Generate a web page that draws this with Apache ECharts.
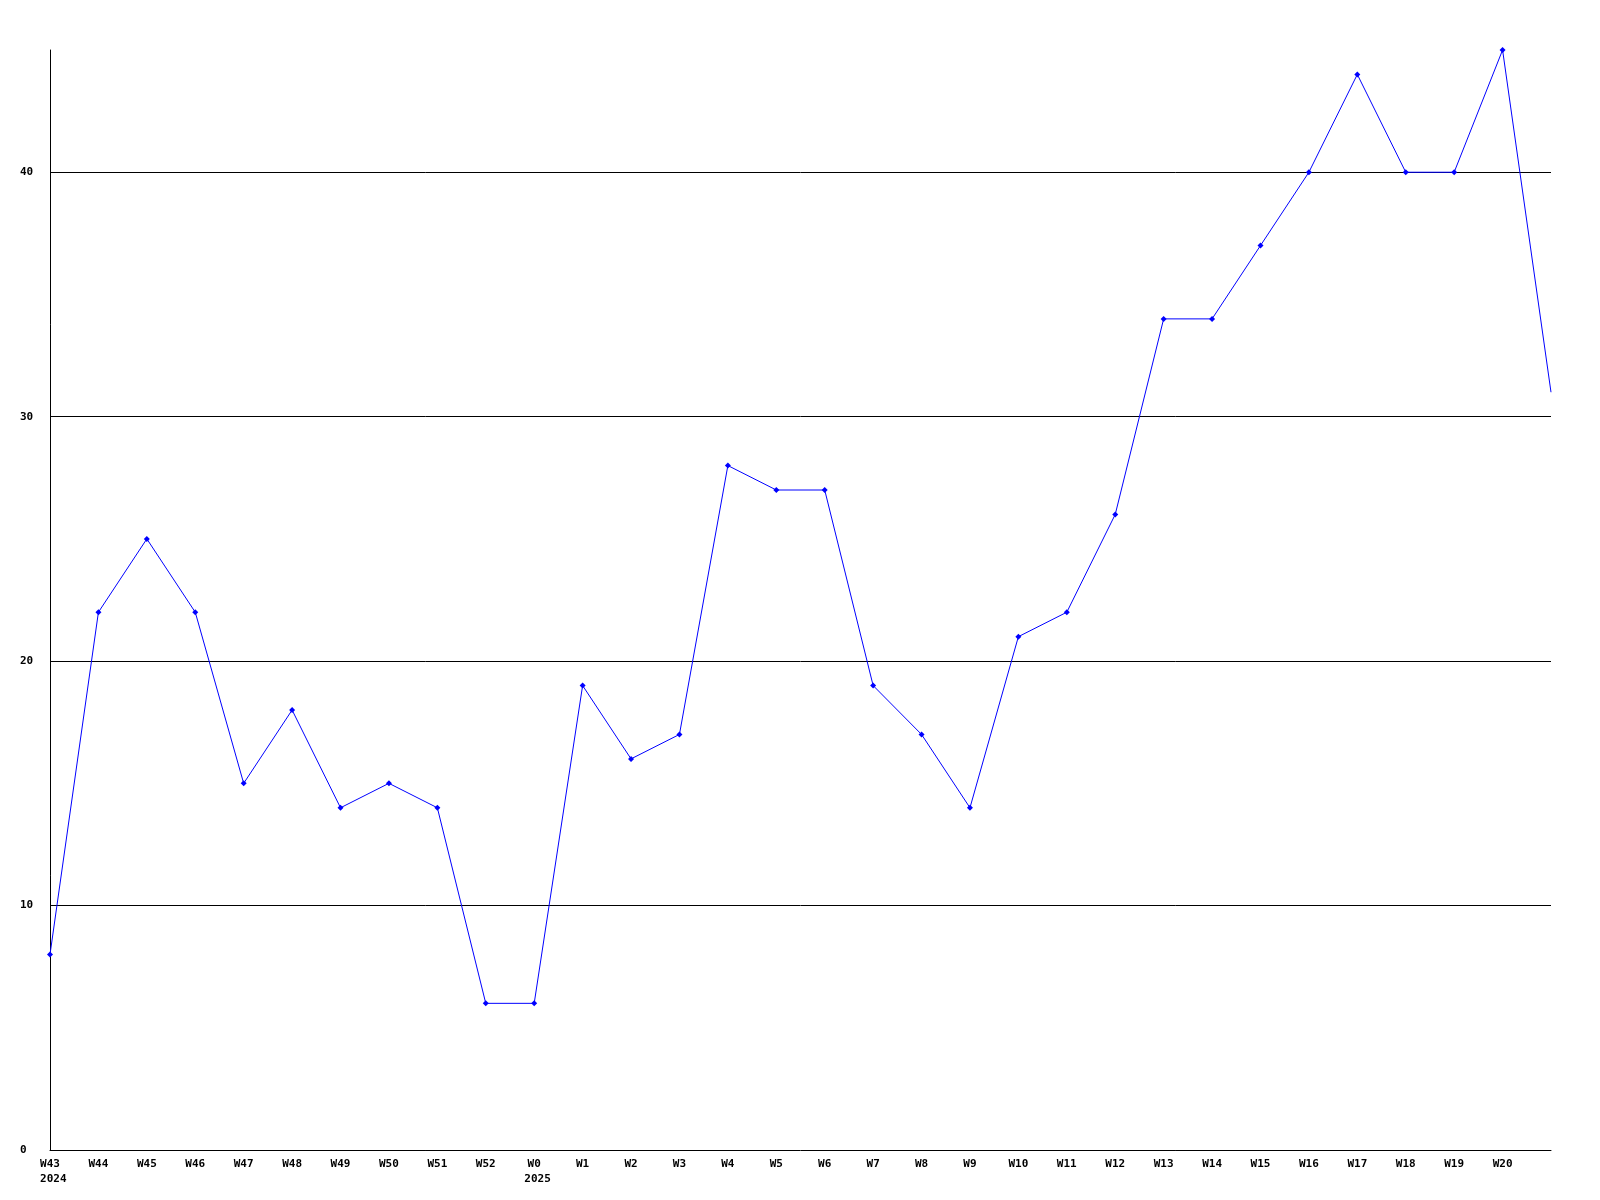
<!DOCTYPE html>
<html><head><meta charset="utf-8">
<script src="https://cdn.jsdelivr.net/npm/echarts@6/dist/echarts.min.js"></script>
<style>html,body{margin:0;padding:0;background:#fff}#c{width:1600px;height:1200px}</style>
</head><body><div id="c"></div>
<script>
const categories = ['W43\n 2024','W44','W45','W46','W47','W48','W49','W50','W51','W52','W0\n 2025','W1','W2','W3','W4','W5','W6','W7','W8','W9','W10','W11','W12','W13','W14','W15','W16','W17','W18','W19','W20',''];
const values = [8,22,25,22,15,18,14,15,14,6,6,19,16,17,28,27,27,19,17,14,21,22,26,34,34,37,40,44,40,40,45,31];
const yTicks = [0,10,20,30,40];

const font = 'DejaVu Sans Mono';
const chart = echarts.init(document.getElementById('c'));
chart.setOption({
  animation: false,
  backgroundColor: '#fff',
  grid: {left: 50, right: 49, top: 50, bottom: 50},
  xAxis: {
    type: 'category', data: categories, boundaryGap: false,
    axisLine: {lineStyle: {color: '#000', width: 1}},
    axisTick: {show: false},
    axisLabel: {interval: 0, color: '#000', fontFamily: font, fontWeight: 'bold', fontSize: 11, lineHeight: 15, margin: 7},
    splitLine: {show: false}
  },
  yAxis: {
    type: 'value', min: 0, max: 45, interval: 10,
    axisLine: {show: true, lineStyle: {color: '#000', width: 1}},
    axisTick: {show: false},
    axisLabel: {color: '#000', fontFamily: font, fontWeight: 'bold', fontSize: 11, align: 'left', margin: 30, showMaxLabel: false,
      formatter: v => yTicks.includes(v) ? String(v) : ''},
    splitLine: {show: true, showMaxLine: false, showMinLine: false, lineStyle: {color: '#000', width: 1}}
  },
  series: [{
    type: 'line',
    data: values.map((v, i) => i === values.length - 1 ? {value: v, symbol: 'none'} : v),
    symbol: 'diamond', symbolSize: 6, showAllSymbol: true,
    lineStyle: {color: '#0000ff', width: 1},
    itemStyle: {color: '#0000ff'}
  }]
});
</script></body></html>
